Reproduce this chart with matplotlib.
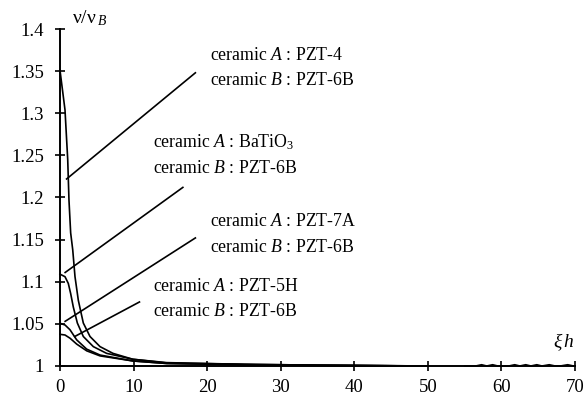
import matplotlib
matplotlib.use("Agg")
import matplotlib.pyplot as plt

plt.rcParams['font.family'] = ['Liberation Serif', 'DejaVu Serif']
plt.rcParams['mathtext.fontset'] = 'custom'
plt.rcParams['mathtext.rm'] = 'Liberation Serif'
plt.rcParams['mathtext.it'] = 'Liberation Serif:italic'

# PZT-4 / PZT-6B
x_pzt4 = [0, 0.68, 1.05, 1.22, 1.45, 1.73, 2.04, 2.49, 3.17, 4.08, 5.44, 7.2, 9.9, 14.5, 25, 35, 50]
y_pzt4 = [1.351, 1.304, 1.245, 1.197, 1.158, 1.138, 1.106, 1.078, 1.051, 1.035, 1.023, 1.015, 1.008, 1.0036, 1.002, 1.001, 1.0]
# BaTiO3 / PZT-6B
x_bat = [0, 0.68, 1.13, 1.45, 1.81, 2.36, 3.17, 4.53, 6.34, 9.9, 14.5, 25, 35, 50]
y_bat = [1.109, 1.106, 1.098, 1.086, 1.070, 1.051, 1.035, 1.023, 1.015, 1.008, 1.004, 1.002, 1.001, 1.0]
# PZT-7A / PZT-6B
x_7a = [0, 0.68, 1.36, 2.27, 3.63, 5.44, 9.9, 14.5, 25, 35, 50]
y_7a = [1.0507, 1.0487, 1.043, 1.031, 1.020, 1.013, 1.006, 1.003, 1.0015, 1.0007, 1.0]
# PZT-5H / PZT-6B
x_5h = [0, 0.68, 1.36, 2.27, 3.63, 5.44, 9.9, 14.5, 25, 35, 50]
y_5h = [1.0376, 1.0368, 1.033, 1.026, 1.018, 1.012, 1.006, 1.003, 1.0015, 1.0007, 1.0]
# small wiggles near the tail
x_tail = [55, 56.5, 57.3, 58, 58.8, 59.5, 61, 61.8, 62.5, 63.3, 64, 64.8, 65.5, 66.5, 67.3, 68, 69, 69.8, 70]
y_tail = [1.0, 1.0, 1.0015, 1.0, 1.0015, 1.0, 1.0, 1.0015, 1.0, 1.0015, 1.0, 1.0015, 1.0, 1.0015, 1.0, 1.0, 1.0015, 1.0, 1.0]

curves = [(x_pzt4, y_pzt4), (x_bat, y_bat), (x_7a, y_7a), (x_5h, y_5h), (x_tail, y_tail)]

labels = [
    (r'ceramic $\mathit{A}$ : PZT-4', r'ceramic $\mathit{B}$ : PZT-6B'),
    (r'ceramic $\mathit{A}$ : BaTiO$_3$', r'ceramic $\mathit{B}$ : PZT-6B'),
    (r'ceramic $\mathit{A}$ : PZT-7A', r'ceramic $\mathit{B}$ : PZT-6B'),
    (r'ceramic $\mathit{A}$ : PZT-5H', r'ceramic $\mathit{B}$ : PZT-6B'),
]
label_xy = [(20.4, 1.369, 1.339), (12.6, 1.266, 1.235), (20.4, 1.171, 1.141), (12.6, 1.094, 1.065)]
leader_lines = [((0.9, 1.222), (18.4, 1.348)), ((0.7, 1.111), (16.7, 1.212)),
                ((0.7, 1.053), (18.4, 1.152)), ((2.0, 1.035), (10.8, 1.076))]

fig = plt.figure(figsize=(5.87, 4.0), dpi=100)
ax = fig.add_axes([0.1022, 0.085, 0.8774, 0.8425])

for xs, ys in curves:
    ax.plot(xs, ys, color='black', lw=1.2, clip_on=False)

for (p0, p1) in leader_lines:
    ax.plot([p0[0], p1[0]], [p0[1], p1[1]], color='black', lw=1.2)

for (la, lb), (lx, ya, yb) in zip(labels, label_xy):
    ax.text(lx, ya, la, fontsize=12.8, va='center', ha='left')
    ax.text(lx, yb, lb, fontsize=12.8, va='center', ha='left')

ax.set_xlim(0, 70)
ax.set_ylim(1, 1.4)
ax.set_xticks([0, 10, 20, 30, 40, 50, 60, 70])
ax.set_yticks([1, 1.05, 1.1, 1.15, 1.2, 1.25, 1.3, 1.35, 1.4])
ax.set_yticklabels(['1', '1.05', '1.1', '1.15', '1.2', '1.25', '1.3', '1.35', '1.4'])
ax.tick_params(direction='inout', length=7, width=1.2, labelsize=13.5)
ax.tick_params(axis='y', pad=8)
ax.tick_params(axis='x', pad=6)
for s in ['top', 'right']:
    ax.spines[s].set_visible(False)
for s in ['left', 'bottom']:
    ax.spines[s].set_linewidth(1.4)

fig.text(72/587, 1 - 18/400, r'$\mathrm{ν/ν}\,_{\mathit{B}}$', fontsize=14, va='center', ha='left')
fig.text(553/587, 1 - 342/400, r'$\mathit{ξ\,h}$', fontsize=14, va='center', ha='left')

fig.savefig('out.png', dpi=100)
